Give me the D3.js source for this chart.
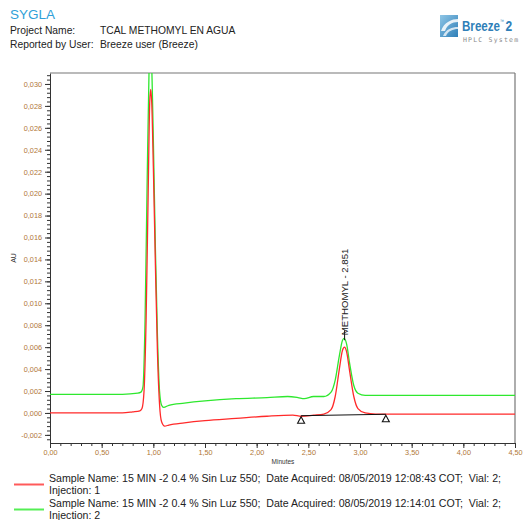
<!DOCTYPE html>
<html>
<head>
<meta charset="utf-8">
<script src="https://cdn.jsdelivr.net/npm/d3@7"></script>
<style>
  html, body { margin: 0; padding: 0; background: #fff; }
  svg { display: block; font-family: "Liberation Sans", Arial, sans-serif; }
  .pre { white-space: pre; }
</style>
</head>
<body>
<svg id="chart" width="528" height="520"></svg>
<script>
// Chromatogram traces: retention time (min) and detector response (AU)
const inj1Time = [0, 0.50, 0.70, 0.80, 0.87, 0.89, 0.91, 0.93, 0.95, 0.965, 0.975, 0.985, 1.00, 1.02, 1.04, 1.06, 1.08, 1.11, 1.15, 1.30, 1.50, 1.80, 2.10, 2.35, 2.43, 2.55, 2.65, 2.72, 2.76, 2.80, 2.83, 2.85, 2.87, 2.90, 2.94, 2.98, 3.05, 3.15, 3.30, 4.50];
const inj1AU   = [0, 0, 0, 0.0001, 0.0002, 0.0004, 0.0020, 0.0085, 0.0200, 0.0283, 0.0295, 0.0282, 0.0225, 0.0135, 0.0055, 0.0008, -0.0008, -0.0012, -0.0011, -0.0009, -0.0007, -0.0005, -0.0003, -0.0002, -0.0003, -0.0002, -0.0001, 0.0003, 0.0015, 0.0040, 0.0057, 0.0060, 0.0056, 0.0038, 0.0015, 0.0004, 0.0000, -0.0001, -0.0001, -0.0001];

const inj2Time = [0, 0.70, 0.85, 0.88, 0.90, 0.92, 0.94, 0.96, 0.97, 0.98, 1.00, 1.02, 1.04, 1.06, 1.08, 1.10, 1.15, 1.30, 1.50, 1.80, 2.10, 2.30, 2.40, 2.46, 2.55, 2.65, 2.72, 2.76, 2.80, 2.83, 2.845, 2.87, 2.90, 2.94, 2.98, 3.05, 3.30, 4.50];
const inj2AU   = [0.0017, 0.0017, 0.0018, 0.0019, 0.0024, 0.0085, 0.0210, 0.0320, 0.0345, 0.0330, 0.0250, 0.0150, 0.0070, 0.0020, 0.0007, 0.0005, 0.0007, 0.0009, 0.0011, 0.0013, 0.0014, 0.0015, 0.0014, 0.0013, 0.0015, 0.0015, 0.0019, 0.0030, 0.0052, 0.0066, 0.0068, 0.0063, 0.0045, 0.0025, 0.0018, 0.0016, 0.0016, 0.0016];

// Integration baseline of the methomyl peak (start / end markers)
const baseTime = [2.43, 3.25];
const baseAU   = [-0.00025, -0.00012];

const peakName = "METHOMYL";
const peakRT = 2.851;
const peakTopAU = 0.0070;

const xTicks = [0, 0.5, 1.0, 1.5, 2.0, 2.5, 3.0, 3.5, 4.0, 4.5];
const yTicks = [-0.002, 0, 0.002, 0.004, 0.006, 0.008, 0.010, 0.012, 0.014, 0.016, 0.018, 0.020, 0.022, 0.024, 0.026, 0.028, 0.030];

const legendLabels = [
  ["Sample Name: 15 MIN -2 0.4 % Sin Luz 550;  Date Acquired: 08/05/2019 12:08:43 COT;  Vial: 2;", "Injection: 1"],
  ["Sample Name: 15 MIN -2 0.4 % Sin Luz 550;  Date Acquired: 08/05/2019 12:14:01 COT;  Vial: 2;", "Injection: 2"]
];
const traceColors = ["#ff2a2a", "#2ee82e"];
const legendColors = ["#ff5a5a", "#55ee55"];

const svg = d3.select("#chart");

// ---------- header ----------
svg.append("text").attr("x", 10).attr("y", 19).attr("font-size", 13.5)
  .attr("fill", "#2f9fd8").text("SYGLA");
const hdr = [["Project Name:", "TCAL METHOMYL EN AGUA", 34], ["Reported by User:", "Breeze user (Breeze)", 48]];
hdr.forEach(([k, v, y]) => {
  svg.append("text").attr("x", 10).attr("y", y).attr("font-size", 10.3).attr("fill", "#222").text(k);
  svg.append("text").attr("x", 100).attr("y", y).attr("font-size", 10.3).attr("fill", "#222").text(v);
});

// logo
const defs = svg.append("defs");
const lg = defs.append("linearGradient").attr("id", "logoGrad").attr("x1", 0).attr("y1", 0).attr("x2", 1).attr("y2", 1);
lg.append("stop").attr("offset", 0).attr("stop-color", "#8fc6e6");
lg.append("stop").attr("offset", 1).attr("stop-color", "#2f7fb8");
const logo = svg.append("g");
logo.append("rect").attr("x", 440).attr("y", 15).attr("width", 18).attr("height", 22).attr("fill", "url(#logoGrad)");
logo.append("path").attr("d", "M441,31 C444,22 452,19 458,19 L458,22 C452,22 447,25 445,31 Z").attr("fill", "#fff").attr("opacity", 0.85);
logo.append("path").attr("d", "M443,36 C446,29 452,27 458,27 L458,29 C453,29 448,31 446,36 Z").attr("fill", "#fff").attr("opacity", 0.75);
// condensed wordmark with trademark sign and version number
const word = logo.append("text").attr("transform", "translate(462,31) scale(0.8,1)")
  .attr("font-size", 14.5).attr("font-weight", "bold").attr("fill", "#2f7fb8");
word.append("tspan").text("Breeze");
word.append("tspan").attr("font-size", 5).attr("font-weight", "normal").attr("dy", -8).text("™");
word.append("tspan").attr("font-size", 15).attr("dy", 8).attr("dx", 2).text("2");
logo.append("text").attr("x", 463).attr("y", 42).attr("font-size", 6.5).attr("letter-spacing", 1.2)
  .attr("font-family", "'DejaVu Sans Mono', monospace").attr("fill", "#8a8a8a").text("HPLC System");

// ---------- plot ----------
const L = 50, R = 515, T = 73, B = 443;
const x = d3.scaleLinear().domain([0, 4.5]).range([L, R]);
const y = d3.scaleLinear().domain([-0.00274, 0.0310]).range([B, T]);

defs.append("clipPath").attr("id", "plotClip")
  .append("rect").attr("x", L).attr("y", T).attr("width", R - L).attr("height", B - T);

const fmtX = v => d3.format(".2f")(v).replace(".", ",");
const fmtY = v => d3.format(".3f")(v).replace(".", ",").replace("−", "-");
const tickColor = "#b07636";

// minor ticks
const xMinor = d3.range(0, 4.5001, 0.1);
const yMinor = d3.range(-0.0024, 0.03101, 0.0004);
const xMinorAxis = d3.axisBottom(x).tickValues(xMinor).tickSize(3).tickFormat("");
const yMinorAxis = d3.axisLeft(y).tickValues(yMinor).tickSize(3).tickFormat("");
svg.append("g").attr("transform", `translate(0,${B})`).call(xMinorAxis).call(g => g.select(".domain").remove())
  .selectAll("line").attr("stroke", "#333");
svg.append("g").attr("transform", `translate(${L},0)`).call(yMinorAxis).call(g => g.select(".domain").remove())
  .selectAll("line").attr("stroke", "#333");

const xAxis = d3.axisBottom(x).tickValues(xTicks).tickSize(5).tickSizeOuter(0).tickFormat(fmtX);
const gx = svg.append("g").attr("transform", `translate(0,${B})`).call(xAxis);
gx.select(".domain").attr("stroke", "#333");
gx.selectAll("line").attr("stroke", "#333");
gx.selectAll("text").attr("font-size", 7.3).attr("fill", tickColor).attr("dy", "0.55em")
  .attr("font-family", "'Liberation Sans', Arial, sans-serif");

const yAxis = d3.axisLeft(y).tickValues(yTicks).tickSize(5).tickSizeOuter(0).tickFormat(fmtY);
const gy = svg.append("g").attr("transform", `translate(${L},0)`).call(yAxis);
gy.select(".domain").attr("stroke", "#333");
gy.selectAll("line").attr("stroke", "#333");
gy.selectAll("text").attr("font-size", 7.3).attr("fill", tickColor)
  .attr("font-family", "'Liberation Sans', Arial, sans-serif");

// top and right frame
svg.append("line").attr("x1", L).attr("x2", R).attr("y1", T).attr("y2", T).attr("stroke", "#777").attr("stroke-width", 1.2);
svg.append("line").attr("x1", R).attr("x2", R).attr("y1", T).attr("y2", B).attr("stroke", "#777").attr("stroke-width", 1.2);

svg.append("text").attr("transform", `translate(16,258) rotate(-90)`).attr("text-anchor", "middle")
  .attr("font-size", 7).attr("fill", "#333").text("AU");
svg.append("text").attr("x", 283).attr("y", 464).attr("text-anchor", "middle")
  .attr("font-size", 6.5).attr("fill", "#333").text("Minutes");

// traces
const line = d3.line().x(d => x(d[0])).y(d => y(d[1])).curve(d3.curveMonotoneX);
const traces = [d3.zip(inj1Time, inj1AU), d3.zip(inj2Time, inj2AU)];
const plot = svg.append("g").attr("clip-path", "url(#plotClip)");
// green drawn first, red on top
[1, 0].forEach(i => {
  plot.append("path").datum(traces[i]).attr("d", line).attr("fill", "none")
    .attr("stroke", traceColors[i]).attr("stroke-width", 1.3).attr("stroke-linejoin", "round");
});

// integration baseline and markers
const bl = d3.zip(baseTime, baseAU);
plot.append("path").datum(bl).attr("d", d3.line().x(d => x(d[0])).y(d => y(d[1])))
  .attr("stroke", "#111").attr("stroke-width", 1);
bl.forEach(d => {
  const cx = x(d[0]), cy = y(d[1]);
  svg.append("path").attr("d", `M${cx},${cy + 1} L${cx + 3.5},${cy + 7.5} L${cx - 3.5},${cy + 7.5} Z`)
    .attr("fill", "#fff").attr("stroke", "#111").attr("stroke-width", 1.1);
});

// peak label
const px = x(peakRT), py = y(peakTopAU);
svg.append("line").attr("x1", px).attr("x2", px).attr("y1", py - 6).attr("y2", py + 4).attr("stroke", "#111").attr("stroke-width", 1);
svg.append("text").attr("transform", `translate(${px + 3},${py - 1}) rotate(-90)`)
  .attr("font-size", 9.6).attr("fill", "#222").text(`${peakName} - ${peakRT}`);

// ---------- legend ----------
legendLabels.forEach((lines, i) => {
  const y0 = 481.5 + i * 25;
  svg.append("line").attr("x1", 14).attr("x2", 44).attr("y1", y0 + 3).attr("y2", y0 + 3)
    .attr("stroke", legendColors[i]).attr("stroke-width", 2);
  lines.forEach((t, j) => {
    svg.append("text").attr("class", "pre").attr("x", 49).attr("y", y0 + j * 12.5).attr("font-size", 10.6)
      .attr("fill", "#222").text(t);
  });
});
</script>
</body>
</html>
